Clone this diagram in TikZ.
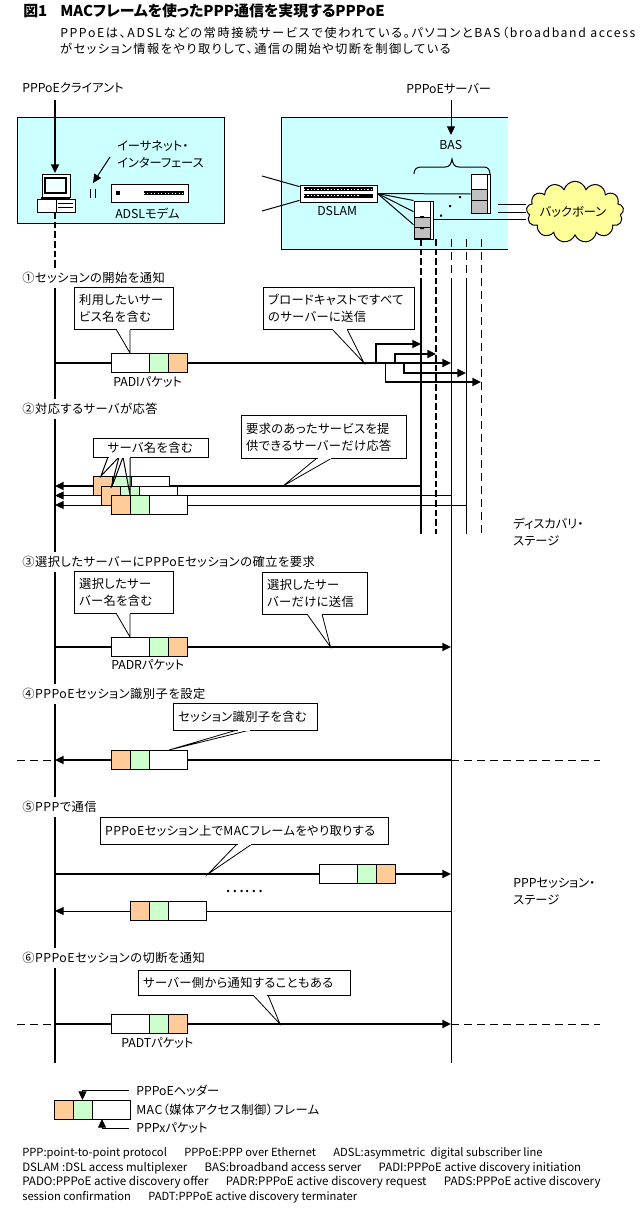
\documentclass[tikz,border=0pt]{standalone}
\usepackage{fontspec}
\setmainfont{Noto Sans CJK JP}[RawFeature=+palt]
\definecolor{lanblue}{RGB}{204,255,255}
\definecolor{pktgreen}{RGB}{204,255,204}
\definecolor{pktorange}{RGB}{255,204,153}
\definecolor{wanyellow}{RGB}{255,255,153}
\definecolor{srvgray}{RGB}{192,192,192}
\usetikzlibrary{arrows.meta,positioning,shapes.symbols}

\begin{document}
\begin{tikzpicture}[
    x=0.75pt, y=-0.75pt,
    lbl/.style={anchor=west, inner sep=0pt, font=\fontsize{9.2}{12}\selectfont},
    sect/.style={lbl, fill=white, minimum height=15pt, font=\fontsize{9.2}{12}\selectfont\addfontfeature{LetterSpace=4}},
    cbox/.style={draw, fill=white, line width=0.75pt, anchor=north west, align=left,
                 inner xsep=3.5pt, inner ysep=0pt, font=\fontsize{9.2}{12.75}\selectfont\addfontfeature{LetterSpace=3}},
    ctail/.style={draw, fill=white, line width=0.6pt},
    wcell/.style={draw, fill=white, line width=0.75pt, inner sep=0pt, outer sep=0pt,
                  minimum width=28.5pt, minimum height=14.25pt},
    gcell/.style={wcell, fill=pktgreen, minimum width=14.25pt},
    ocell/.style={wcell, fill=pktorange, minimum width=14.25pt},
    msg/.style={line width=1.5pt},
    thin1/.style={line width=0.75pt},
    lifeline/.style={line width=1.5pt},
    dashlife/.style={line width=1.5pt, dash pattern=on 5pt off 2.25pt},
    dashthin/.style={line width=0.75pt, dash pattern=on 6pt off 3.75pt},
    >={Triangle[length=6.5pt,width=6pt]}
  ]
    \useasboundingbox (0,0) rectangle (639,1217);

    % Heading
    \node[lbl, font=\fontsize{11.2}{13}\selectfont\bfseries] (fig) at (23,11) {図1};
    \node[lbl, font=\fontsize{11.2}{13}\selectfont\bfseries] (title) at (60,11)
      {MACフレームを使ったPPP通信を実現するPPPoE};
    \node[lbl, font=\fontsize{9.2}{12}\selectfont\addfontfeature{LetterSpace=13}] (lead1) at (60,33)
      {PPPoEは、ADSLなどの常時接続サービスで使われている。パソコンとBAS（broadband access};
    \node[lbl, font=\fontsize{9.2}{12}\selectfont\addfontfeature{LetterSpace=11.5}] (lead2) at (60,49)
      {がセッション情報をやり取りして、通信の開始や切断を制御している};

    % Access networks
    \fill[lanblue] (17,117) rectangle (224,223);
    \draw[thin1] (17,117) rectangle (224,223);
    \fill[lanblue] (281,117) rectangle (508,249);
    \draw[thin1] (508,117) -- (281,117) -- (281,249) -- (508,249);

    % Client side
    \node[lbl] (client) at (22,88) {PPPoEクライアント};
    \coordinate (clTop) at (55,100);
    \coordinate (clPc) at (55,173);
    \coordinate (clDash) at (55,212);
    \coordinate (clLine) at (55,266);
    \coordinate (clEnd) at (55,1063);
    \draw[lifeline, ->] (clTop) -- (clPc);
    \draw[dashlife] (clDash) -- (clLine);
    \draw[lifeline] (clLine) -- (clEnd);

    % Personal computer
    \node[draw=black, fill=white, line width=0.75pt, inner sep=0pt, minimum width=21pt, minimum height=17.5pt] (monitor) at (56,186) {};
    \draw[line width=1pt, fill=lanblue!30] (45,178) rectangle (66,193);
    \draw[thin1, fill=white] (37,199) rectangle (75,212);
    \fill[black] (41,197) rectangle (70,199);
    \draw[thin1] (56,199) -- (56,212);
    \draw[thin1] (58,203) -- (73,203) (58,207) -- (73,207);

    % Modem and the ethernet interface
    \node[lbl] (ifA) at (117,146) {イーサネット・};
    \node[lbl] (ifB) at (117,163) {インターフェース};
    \coordinate (ifTail) at (110,157);
    \coordinate (ifTip) at (93,183);
    \draw[thin1, ->] (ifTail) -- (ifTip);
    \draw[thin1] (90.5,189) -- (90.5,198) (95,189) -- (95,198);
    \node[draw, fill=white, line width=0.75pt, minimum width=57.75pt, minimum height=13.5pt, inner sep=0pt] (modem) at (149.5,193) {};
    \fill[black] (116,190.5) rectangle (120,195);
    \fill[black] (144,190.5) rectangle (184,195);
    \draw[white, line width=0.4pt, dash pattern=on 0.6pt off 2pt] (144,193) -- (184,193);
    \node[lbl] (modemName) at (115,214) {ADSLモデム};

    % Carrier side
    \node[lbl] (server) at (406,89) {PPPoEサーバー};
    \node[lbl] (bas) at (439,145) {BAS};
    \coordinate (svTop) at (451,100);
    \coordinate (svBas) at (451,135);
    \draw[thin1, ->] (svTop) -- (svBas);
    \draw[thin1] (414,174) .. controls (414,170) and (416,167) .. (421,167) -- (445,167)
      .. controls (449,167) and (451,165) .. (452,159)
      .. controls (453,165) and (455,167) .. (459,167) -- (484,167)
      .. controls (488,167) and (490,170) .. (490,174);
    \node[lbl] (dslamName) at (317,211) {DSLAM};
    \node[draw, fill=white, line width=0.75pt, minimum width=57.75pt, minimum height=12.75pt, inner sep=0pt] (dslam) at (338.5,193.5) {};
    \fill[black] (304,187) rectangle (373,191);
    \fill[black] (304,193.5) rectangle (373,198);
    \draw[white, line width=0.5pt, dash pattern=on 1pt off 1.5pt] (304,189) -- (373,189) (304,195.5) -- (360,195.5);

    % Servers
    \node[draw, fill=white, line width=0.75pt, minimum width=14.25pt, minimum height=29.25pt, inner sep=0pt] (srvB) at (480.5,194) {};
    \draw[thin1, fill=srvgray] (471,189) rectangle (487,200);
    \draw[thin1, fill=srvgray] (471,200) rectangle (487,213);
    \draw[thin1] (487,175) -- (487,213);
    \node[draw, fill=white, line width=0.75pt, minimum width=14.25pt, minimum height=28.5pt, inner sep=0pt] (srvA) at (423.5,220) {};
    \draw[thin1, fill=srvgray] (414,217) rectangle (430,227);
    \draw[thin1, fill=srvgray] (414,227) rectangle (430,239);
    \draw[thin1] (430,201) -- (430,239);
    \draw[line width=1pt] (414,239) -- (430,239);
    \fill[black] (420,216) rectangle (424,218) (420,227) rectangle (424,229);
    \fill[black] (459,196) rectangle (461,198) (449,205) rectangle (451,207) (440,214.5) rectangle (442,216.5);

    % Backbone
    \node[cloud, draw, fill=wanyellow, line width=0.75pt, cloud puffs=13, aspect=1.6, minimum width=73pt, minimum height=46pt, inner sep=0pt] (backbone) at (575,212) {};
    \node[lbl, anchor=center] (backboneName) at (573,212) {バックボーン};
    \coordinate (upA) at (498,204);
    \coordinate (upB) at (498,212);
    \coordinate (upC) at (433,219);
    \coordinate (pcA) at (262,176);
    \coordinate (pcB) at (262,211);
    \draw[thin1] (upA) -- (upA -| backbone.west) (upB) -- (upB -| backbone.west) (upC) -- (upC -| backbone.west);
    \draw[thin1] (pcA) -- (dslam.170);
    \draw[thin1] (pcB) -- (dslam.190);
    \draw[thin1] (dslam.east) -- (srvB.west);
    \draw[thin1] (dslam.east) -- (srvA.north west);
    \draw[thin1] (dslam.east) -- (srvA.140);
    \draw[thin1] (dslam.east) -- (srvA.205);

    % Server lifelines
    \coordinate (a0) at (421,239); \coordinate (a1) at (421,284); \coordinate (a2) at (421,534);
    \coordinate (b0) at (436,239); \coordinate (b2) at (436,534);
    \coordinate (c0) at (451,239); \coordinate (c1) at (451,284); \coordinate (c2) at (451,1063);
    \coordinate (d0) at (466,239); \coordinate (d1) at (466,284); \coordinate (d2) at (466,534);
    \coordinate (e0) at (481,239); \coordinate (e2) at (481,534);
    \draw[dashlife] (a0) -- (a1);
    \draw[lifeline] (a1) -- (a2);
    \draw[dashlife] (b0) -- (b2);
    \draw[dashthin] (c0) -- (c1);
    \draw[thin1] (c1) -- (c2);
    \draw[dashthin] (d0) -- (d1);
    \draw[thin1] (d1) -- (d2);
    \draw[dashthin] (e0) -- (e2);

    % Step 1
    \node[sect] (s1) at (22,278) {①セッションの開始を通知};
    \coordinate (m1c) at (55,363);
    \coordinate (m1s) at (451,363);
    \node[wcell, anchor=west] (p1w) at (111,363) {};
    \node[gcell, right=0pt of p1w] (p1g) {};
    \node[ocell, right=0pt of p1g] (p1o) {};
    \draw[msg] (m1c) -- (p1w);
    \draw[msg, ->] (p1o) -- (m1s);
    \coordinate (f1) at (376,363); \coordinate (t1) at (421,344);
    \coordinate (f2) at (395,363); \coordinate (t2) at (436,354);
    \coordinate (f3) at (404,363); \coordinate (t3) at (466,373);
    \coordinate (f4) at (385,363); \coordinate (t4) at (481,382);
    \draw[msg, ->] (f1) |- (t1);
    \draw[msg, ->] (f2) |- (t2);
    \draw[msg, ->] (f3) |- (t3);
    \draw[thin1] (f4) -- (f4 |- t4);
    \draw[msg, ->] (f4 |- t4) -- (t4);
    \draw[ctail] (116,329) -- (130,353) -- (130,329);
    \node[cbox, text width=67pt, minimum height=31.5pt] (n1a) at (74,287) {利用したいサー\\ビス名を含む};
    \draw[white, line width=1pt] (117,329) -- (129.5,329);
    \draw[ctail] (332,329) -- (364,363) -- (347,329);
    \node[cbox, text width=106pt, minimum height=31.5pt] (n1b) at (263,287) {ブロードキャストですべて\\のサーバーに送信};
    \draw[white, line width=1pt] (333,329) -- (346.5,329);
    \node[lbl] (pn1) at (113,382) {PADIパケット};

    % Step 2
    \node[sect] (s2) at (22,409) {②対応するサーバが応答};
    \coordinate (m2a) at (55,486); \coordinate (m2as) at (421,486);
    \coordinate (m2b) at (55,495.5); \coordinate (m2bs) at (451,495.5);
    \coordinate (m2c) at (55,505); \coordinate (m2cs) at (466,505);
    \draw[msg, ->] (m2as) -- (m2a);
    \draw[thin1, ->] (m2bs) -- (m2b);
    \draw[thin1, ->] (m2cs) -- (m2c);
    \node[ocell, anchor=west] (p2ao) at (93,486) {};
    \node[gcell, right=0pt of p2ao] (p2ag) {};
    \node[wcell, right=0pt of p2ag] (p2aw) {};
    \node[ocell, anchor=west] (p2bo) at (101,495.5) {};
    \node[gcell, right=0pt of p2bo] (p2bg) {};
    \node[wcell, right=0pt of p2bg] (p2bw) {};
    \node[ocell, anchor=west] (p2co) at (111,505) {};
    \node[gcell, right=0pt of p2co] (p2cg) {};
    \node[wcell, right=0pt of p2cg] (p2cw) {};
    \draw[thin1] (108,457) -- (101,476) -- (119,457);
    \draw[thin1] (119,457) -- (111,488) (123,457) -- (113,484);
    \draw[thin1] (123,457) -- (130,495) -- (130,457);
    \node[cbox, text width=77pt, minimum height=14.25pt, inner xsep=4.7pt] (n2a) at (93,438) {\hspace{6pt}サーバ名を含む};
    \draw[white, line width=1pt] (109,457) -- (129.5,457);
    \draw[ctail] (317,458) -- (283,486) -- (332,458);
    \node[cbox, text width=117pt, minimum height=32.25pt] (n2b) at (241,415) {要求のあったサービスを提\\供できるサーバーだけ応答};
    \draw[white, line width=1pt] (318,458) -- (331,458);
    \node[lbl] (discA) at (513,524) {ディスカバリ・};
    \node[lbl] (discB) at (513,541) {ステージ};

    % Step 3
    \node[sect] (s3) at (22,562) {③選択したサーバーにPPPoEセッションの確立を要求};
    \coordinate (m3c) at (55,647);
    \coordinate (m3s) at (451,647);
    \node[wcell, anchor=west] (p3w) at (111,647) {};
    \node[gcell, right=0pt of p3w] (p3g) {};
    \node[ocell, right=0pt of p3g] (p3o) {};
    \draw[msg] (m3c) -- (p3w);
    \draw[msg, ->] (p3o) -- (m3s);
    \draw[ctail] (116,613) -- (130,637) -- (130,613);
    \node[cbox, text width=67pt, minimum height=31.5pt] (n3a) at (74,571) {選択したサー\\バー名を含む};
    \draw[white, line width=1pt] (117,613) -- (129.5,613);
    \draw[ctail] (307,614) -- (330.5,647) -- (322,614);
    \node[cbox, text width=72pt, minimum height=31.5pt] (n3b) at (262,572) {選択したサー\\バーだけに送信};
    \draw[white, line width=1pt] (308,614) -- (321.5,614);
    \node[lbl] (pn3) at (111,665) {PADRパケット};

    % Step 4
    \node[sect] (s4) at (22,694) {④PPPoEセッション識別子を設定};
    \coordinate (m4c) at (55,760);
    \coordinate (m4s) at (451,760);
    \coordinate (m4l) at (17,760);
    \coordinate (m4r) at (600,760);
    \draw[dashthin] (m4l) -- (m4c);
    \draw[dashthin] (m4s) -- (m4r);
    \node[ocell, anchor=west] (p4o) at (111,760) {};
    \node[gcell, right=0pt of p4o] (p4g) {};
    \node[wcell, right=0pt of p4g] (p4w) {};
    \draw[msg, ->] (p4o) -- (m4c);
    \draw[msg] (m4s) -- (p4w);
    \draw[ctail] (237,730) -- (169,750) -- (250,730);
    \node[cbox, text width=101pt, minimum height=20.25pt] (n4) at (173,703) {セッション識別子を含む};
    \draw[white, line width=1pt] (238,730) -- (249.5,730);

    % Step 5
    \node[sect] (s5) at (22,807) {⑤PPPで通信};
    \coordinate (m5c) at (55,874);
    \coordinate (m5s) at (451,874);
    \coordinate (m6c) at (55,911);
    \coordinate (m6s) at (451,911);
    \node[wcell, anchor=west] (p5w) at (319,874) {};
    \node[gcell, right=0pt of p5w] (p5g) {};
    \node[ocell, right=0pt of p5g] (p5o) {};
    \draw[msg] (m5c) -- (p5w);
    \draw[msg, ->] (p5o) -- (m5s);
    \node[ocell, anchor=west] (p6o) at (130,911) {};
    \node[gcell, right=0pt of p6o] (p6g) {};
    \node[wcell, right=0pt of p6g] (p6w) {};
    \draw[thin1] (p6w) -- (m6s);
    \draw[thin1, ->] (p6o) -- (m6c);
    \draw[ctail] (237,844) -- (208,874) -- (252,844);
    \node[cbox, text width=209pt, minimum height=20.25pt] (n5) at (100,817) {PPPoEセッション上でMACフレームをやり取りする};
    \draw[white, line width=1pt] (238,844) -- (251,844);
    \node[lbl, font=\fontsize{13.5}{14}\selectfont] (dots) at (225,891) {……};
    \node[lbl] (sessA) at (513,883) {PPPセッション・};
    \node[lbl] (sessB) at (513,900) {ステージ};

    % Step 6
    \node[sect] (s6) at (22,958) {⑥PPPoEセッションの切断を通知};
    \coordinate (m7c) at (55,1024);
    \coordinate (m7s) at (451,1024);
    \coordinate (m7l) at (17,1024);
    \coordinate (m7r) at (600,1024);
    \draw[dashthin] (m7l) -- (m7c);
    \draw[dashthin] (m7s) -- (m7r);
    \node[wcell, anchor=west] (p7w) at (111,1024) {};
    \node[gcell, right=0pt of p7w] (p7g) {};
    \node[ocell, right=0pt of p7g] (p7o) {};
    \draw[msg] (m7c) -- (p7w);
    \draw[msg, ->] (p7o) -- (m7s);
    \draw[ctail] (253,995) -- (280,1024) -- (268,995);
    \node[cbox, text width=152pt, minimum height=18.75pt] (n6) at (138,970) {サーバー側から通知することもある};
    \draw[white, line width=1pt] (254,995) -- (267,995);
    \node[lbl] (pn7) at (121,1043) {PADTパケット};

    % Frame legend
    \node[ocell, anchor=west] (kO) at (54,1109.5) {};
    \node[gcell, right=0pt of kO] (kG) {};
    \node[wcell, right=0pt of kG] (kW) {};
    \node[lbl] (kHead) at (136,1091) {PPPoEヘッダー};
    \node[lbl, font=\fontsize{9.2}{12}\selectfont\addfontfeature{LetterSpace=4}] (kMac) at (136,1110) {MAC（媒体アクセス制御）フレーム};
    \node[lbl] (kPkt) at (136,1128) {PPPxパケット};
    \coordinate (kHeadEnd) at (129,1090);
    \coordinate (kPktEnd) at (129,1128);
    \draw[thin1, ->] (kHeadEnd) -| (kG.north);
    \draw[thin1, ->] (kPktEnd) -| (102,1119);

    % Abbreviations
    \node[lbl, font=\fontsize{8.4}{12}\selectfont] (ab1) at (22,1153) {PPP:point-to-point protocol\hspace{13pt}PPPoE:PPP over Ethernet\hspace{13pt}ADSL:asymmetric\hspace{4pt}digital subscriber line};
    \node[lbl, font=\fontsize{8.6}{12}\selectfont] (ab2) at (22,1168) {DSLAM :DSL access multiplexer\hspace{13pt}BAS:broadband access server\hspace{13pt}PADI:PPPoE active discovery initiation};
    \node[lbl, font=\fontsize{8.7}{12}\selectfont] (ab3) at (22,1182) {PADO:PPPoE active discovery offer\hspace{13pt}PADR:PPPoE active discovery request\hspace{13pt}PADS:PPPoE active discovery};
    \node[lbl, font=\fontsize{8.4}{12}\selectfont] (ab4) at (22,1197) {session confirmation\hspace{13pt}PADT:PPPoE active discovery terminater};
  \end{tikzpicture}
\end{document}
